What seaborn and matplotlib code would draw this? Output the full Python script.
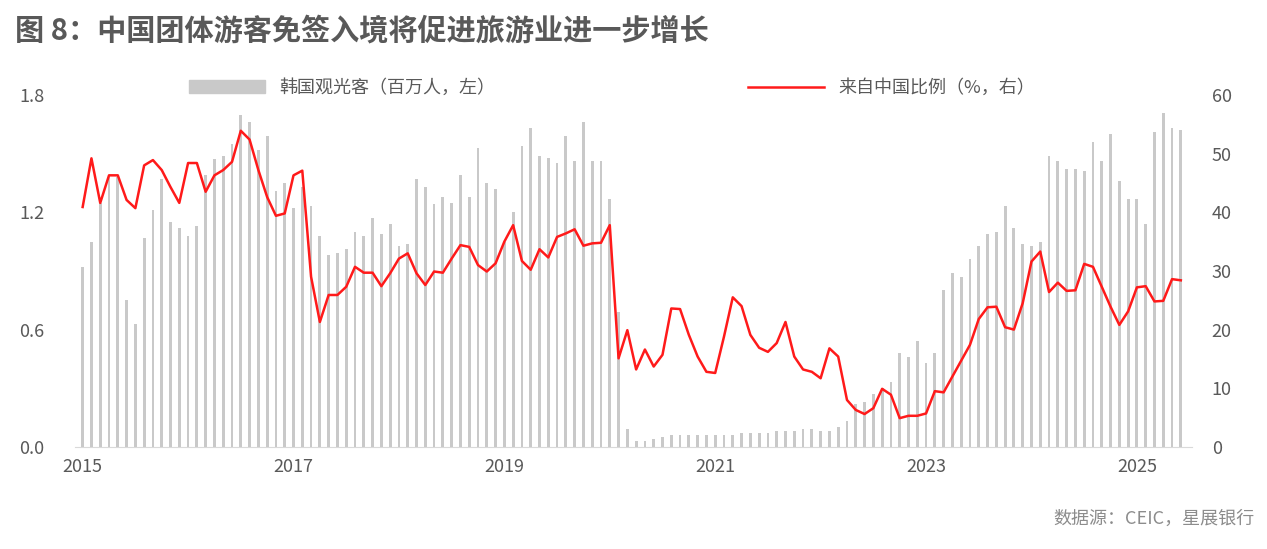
import numpy as np
import pandas as pd
import matplotlib
matplotlib.use("Agg")
import matplotlib.pyplot as plt
import seaborn as sns

plt.rcParams["font.family"] = ["Noto Sans CJK SC", "DejaVu Sans"]

years = ["2015", "2017", "2019", "2021", "2023", "2025"]
visitors = [  # million, monthly Jan 2015 - Jun 2025
    0.92, 1.05, 1.25, 1.38, 1.38, 0.75, 0.63, 1.07, 1.21, 1.37, 1.15, 1.12,
    1.08, 1.13, 1.39, 1.47, 1.49, 1.55, 1.70, 1.66, 1.52, 1.59, 1.31, 1.35,
    1.22, 1.33, 1.23, 1.08, 0.98, 0.99, 1.01, 1.10, 1.08, 1.17, 1.09, 1.14,
    1.03, 1.04, 1.37, 1.33, 1.24, 1.28, 1.25, 1.39, 1.28, 1.53, 1.35, 1.32,
    1.05, 1.20, 1.54, 1.63, 1.49, 1.48, 1.45, 1.59, 1.46, 1.66, 1.46, 1.46,
    1.27, 0.69, 0.09, 0.03, 0.03, 0.04, 0.05, 0.06, 0.06, 0.06, 0.06, 0.06,
    0.06, 0.06, 0.06, 0.07, 0.07, 0.07, 0.07, 0.08, 0.08, 0.08, 0.09, 0.09,
    0.08, 0.08, 0.10, 0.13, 0.22, 0.23, 0.27, 0.30, 0.33, 0.48, 0.46, 0.54,
    0.43, 0.48, 0.80, 0.89, 0.87, 0.96, 1.03, 1.09, 1.10, 1.23, 1.12, 1.04,
    1.03, 1.05, 1.49, 1.46, 1.42, 1.42, 1.41, 1.56, 1.46, 1.60, 1.36, 1.27,
    1.27, 1.14, 1.61, 1.71, 1.63, 1.62,
]
china_share = [  # %, monthly Jan 2015 - Jun 2025
    40.9, 49.2, 41.6, 46.3, 46.3, 42.1, 40.7, 48.0, 48.9, 47.2, 44.3, 41.6,
    48.4, 48.4, 43.5, 46.3, 47.2, 48.6, 53.9, 52.4, 47.2, 42.6, 39.4, 39.8,
    46.3, 47.1, 29.0, 21.3, 25.9, 25.9, 27.3, 30.7, 29.7, 29.7, 27.4, 29.6,
    32.1, 33.0, 29.6, 27.6, 29.9, 29.7, 32.1, 34.4, 34.1, 31.0, 29.9, 31.3,
    35.0, 37.8, 31.7, 30.2, 33.7, 32.3, 35.8, 36.4, 37.1, 34.3, 34.7, 34.8,
    37.8, 15.1, 19.9, 13.2, 16.6, 13.7, 15.7, 23.6, 23.5, 19.1, 15.4, 12.8,
    12.6, 18.8, 25.5, 24.0, 19.1, 16.9, 16.2, 17.7, 21.3, 15.4, 13.2, 12.8,
    11.7, 16.8, 15.4, 8.0, 6.3, 5.6, 6.6, 9.9, 8.9, 4.9, 5.3, 5.3,
    5.7, 9.5, 9.3, 12.0, 14.7, 17.4, 21.8, 23.8, 23.9, 20.4, 20.0, 24.5,
    31.6, 33.3, 26.4, 28.0, 26.6, 26.7, 31.2, 30.7, 27.3, 23.9, 20.8, 23.1,
    27.2, 27.4, 24.8, 24.9, 28.6, 28.4,
]

n = len(visitors)
df = pd.DataFrame({"i": np.arange(n), "v": visitors, "c": china_share})

fig = plt.figure(figsize=(12.67, 5.49), dpi=100)
ax = fig.add_axes([0.059, 0.186, 0.882, 0.641])
sns.barplot(data=df, x="i", y="v", color="#c9c9c9", width=0.32, ax=ax,
            native_scale=True, saturation=1, edgecolor="none")
ax2 = ax.twinx()
sns.lineplot(data=df, x="i", y="c", color="#ff1a1a", linewidth=1.8, ax=ax2)

tc = "#595959"
ax.set_xlim(-0.9, n + 0.3)
ax.set_ylim(0, 1.8)
ax2.set_ylim(0, 60)
ax.set_yticks([0, 0.6, 1.2, 1.8])
ax.set_yticklabels(["0.0", "0.6", "1.2", "1.8"])
ax2.set_yticks([0, 10, 20, 30, 40, 50, 60])
ax.set_xticks(np.arange(len(years)) * 24)
ax.set_xticklabels(years)
for a in (ax, ax2):
    a.set_xlabel(""); a.set_ylabel("")
    for s in a.spines.values():
        s.set_visible(False)
    a.tick_params(length=0, labelsize=13, colors=tc, pad=8)
ax.spines["bottom"].set_visible(True)
ax.spines["bottom"].set_color("#d9d9d9")
ax.tick_params(axis="y", pad=22)
ax2.tick_params(axis="y", pad=14)

from matplotlib.patches import Patch
from matplotlib.lines import Line2D
h = [Patch(color="#c9c9c9"), Line2D([], [], color="#ff1a1a", lw=1.8)]
fig.legend(h, ["韩国观光客（百万人，左）", "来自中国比例（%，右）"], loc="center",
           bbox_to_anchor=(0.483, 0.84), ncol=2, frameon=False, fontsize=13,
           labelcolor=tc, columnspacing=14, handlelength=4.2)

fig.text(0.012, 0.945, "图 8：中国团体游客免签入境将促进旅游业进一步增长", fontsize=21,
         fontweight="bold", color="#595959", va="center")
fig.text(0.99, 0.055, "数据源：CEIC，星展银行", fontsize=13, color="#8c8c8c",
         ha="right", va="center")
fig.savefig("out.png", dpi=100)
